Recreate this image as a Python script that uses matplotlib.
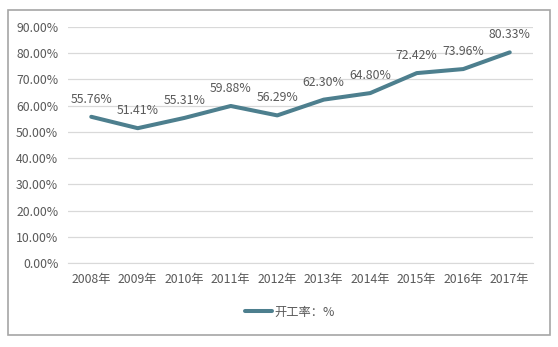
import matplotlib
matplotlib.use("Agg")
import matplotlib.pyplot as plt
from matplotlib.patches import Rectangle
from matplotlib.ticker import FuncFormatter

plt.rcParams['font.family'] = ['Noto Sans CJK SC', 'DejaVu Sans']

years = ["2008年", "2009年", "2010年", "2011年", "2012年", "2013年", "2014年", "2015年", "2016年", "2017年"]
rates = [55.76, 51.41, 55.31, 59.88, 56.29, 62.30, 64.80, 72.42, 73.96, 80.33]
series_name = "开工率：%"

line_color = "#4d7f8e"
text_color = "#595959"

fig = plt.figure(figsize=(5.58, 3.47), dpi=100)
fig.patches.append(Rectangle((8/558, 1-335/347), (550-8)/558, (335-10)/347,
                             transform=fig.transFigure, fill=False,
                             edgecolor="#a6a6a6", linewidth=1.2))
ax = fig.add_axes([68/558, 1-263/347, (533-68)/558, (263-27)/347])

x = list(range(len(years)))
ax.plot(x, rates, color=line_color, linewidth=2.9, solid_capstyle='round',
        solid_joinstyle='round', label=series_name)
for xi, v in zip(x, rates):
    ax.annotate(f"{v:.2f}%", (xi, v), xytext=(0, 8), textcoords="offset points",
                ha="center", va="bottom", fontsize=8.8, color=text_color)

ax.set_xlim(-0.5, len(years) - 0.5)
ax.set_ylim(0, 90)
ax.set_yticks(range(0, 91, 10))
ax.yaxis.set_major_formatter(FuncFormatter(lambda v, p: f"{v:.2f}%"))
ax.set_xticks(x)
ax.set_xticklabels(years)
ax.tick_params(axis='both', length=0, labelsize=8.8, colors=text_color)
ax.tick_params(axis='y', pad=7)
ax.tick_params(axis='x', pad=7)
ax.grid(axis='y', color="#d9d9d9", linewidth=0.9)
ax.set_axisbelow(True)
for s in ["top", "right", "left"]:
    ax.spines[s].set_visible(False)
ax.spines["bottom"].set_color("#d9d9d9")

leg = fig.legend(loc="center", bbox_to_anchor=(290/558, 1-312/347), frameon=False,
                 fontsize=8.8, handlelength=2.2, handletextpad=0.2)
for t in leg.get_texts():
    t.set_color(text_color)

fig.savefig("out.png", dpi=100)
